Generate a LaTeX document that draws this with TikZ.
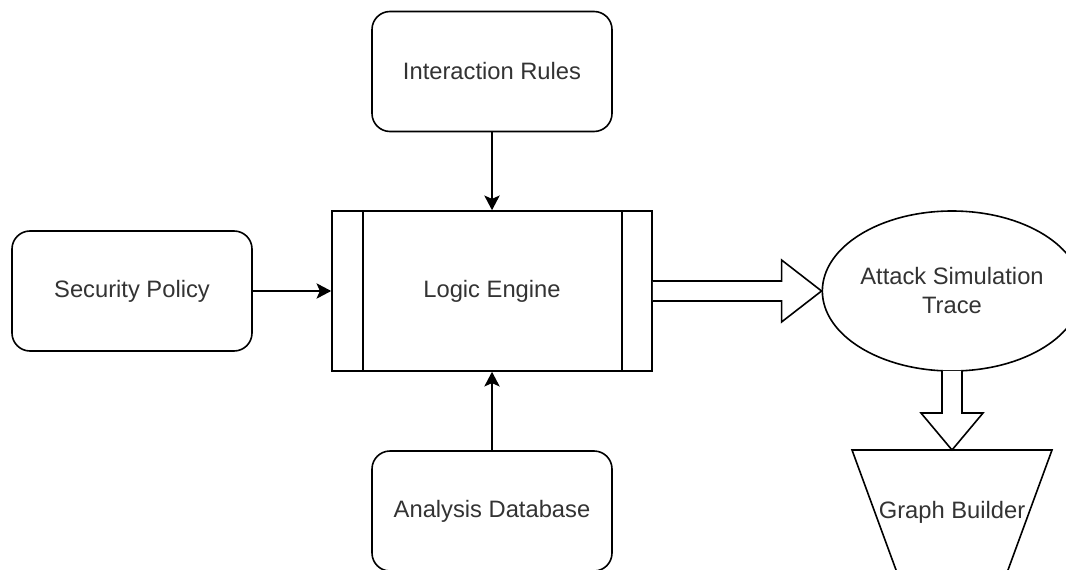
\documentclass[tikz,border=0pt]{standalone}
\usepackage{fontspec}
\setmainfont{Liberation Sans}
\usetikzlibrary{arrows.meta,calc,shapes.geometric}
\definecolor{txt}{RGB}{51,51,51}
\begin{document}
\begin{tikzpicture}[x=0.75pt,y=-0.75pt,
  every node/.style={font=\fontsize{17.8}{21.75}\selectfont, text=txt},
  rbox/.style={draw, line width=1.2pt, rounded corners=13.5pt, minimum width=180pt, minimum height=90pt, align=center, inner sep=0pt},
  engine/.style={draw, line width=1.2pt, minimum width=240pt, minimum height=120pt, inner sep=0pt},
  oval/.style={draw, ellipse, line width=1.2pt, minimum width=180pt, minimum height=120pt, inner sep=0pt, align=center},
  conn/.style={line width=1.2pt, -{Stealth[length=11pt, width=11.5pt, inset=2.5pt]}},
  blockarrow/.style={draw, line width=1.2pt, fill=white, line join=miter},
  shapeline/.style={draw, line width=1.2pt, fill=white}
]
\clip (0,0) rectangle (1066,570);
\fill[white] (0,0) rectangle (1066,570);

\node[rbox] (ir) at (492,71.5) {Interaction Rules};
\node[rbox] (sp) at (132,291) {Security Policy};
\node[rbox] (ad) at (492,511) {Analysis Database};
\node[engine] (le) at (492,291) {Logic Engine};
\draw[line width=1.2pt] ($(le.north west)+(32,0)$) -- ($(le.south west)+(32,0)$);
\draw[line width=1.2pt] ($(le.north east)+(-31,0)$) -- ($(le.south east)+(-31,0)$);

\node[oval] (ell) at (952,291) {Attack Simulation\\Trace};

% trapezoid Graph Builder
\path[shapeline] ($(952,512)+(-100,-62)$) -- ($(952,512)+(100,-62)$) -- ($(952,512)+(52.3,68)$) -- ($(952,512)+(-52.3,68)$) -- cycle;
\node (gb) at (952,512) {Graph Builder};
\coordinate (gbtop) at ($(gb)+(0,-62)$);

% connectors
\draw[conn] (ir) -- (le);
\draw[conn] (sp) -- (le);
\draw[conn] (ad) -- (le);

% block arrow Logic Engine -> Attack Simulation Trace
\path[blockarrow] ($(le.east)+(0,-10)$) -- ($(ell.west)+(-40,-10)$) -- ($(ell.west)+(-40,-31)$) -- (ell.west) -- ($(ell.west)+(-40,31)$) -- ($(ell.west)+(-40,10)$) -- ($(le.east)+(0,10)$);

% block arrow Attack Simulation Trace -> Graph Builder
\path[blockarrow] ($(ell.south)+(-10,-1)$) -- ($(gbtop)+(-10,-37)$) -- ($(gbtop)+(-31,-37)$) -- (gbtop) -- ($(gbtop)+(31,-37)$) -- ($(gbtop)+(10,-37)$) -- ($(ell.south)+(10,-1)$);
\end{tikzpicture}
\end{document}
